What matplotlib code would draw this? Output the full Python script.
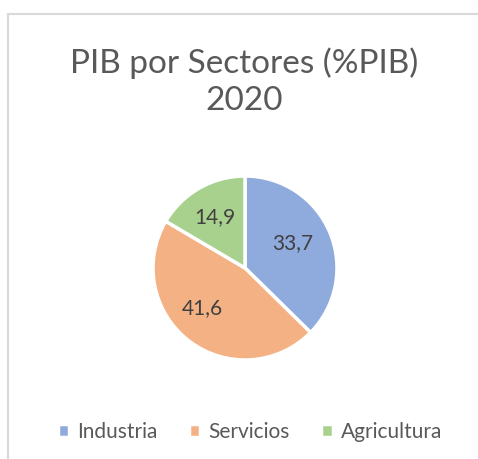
import numpy as np
import matplotlib.pyplot as plt

plt.rcParams['font.family'] = ['Lato', 'DejaVu Sans']

sectores = ['Industria', 'Servicios', 'Agricultura']
valores = [33.7, 41.6, 14.9]
colores = ['#8FAADC', '#F4B183', '#A9D18E']

fig = plt.figure(figsize=(4.78, 4.59), dpi=100)

# marco gris del grafico (recortado a la derecha y abajo)
fig.add_artist(plt.Line2D([8/478, 8/478], [0, 1 - 13.5/459], color='#D9D9D9', lw=1.5))
fig.add_artist(plt.Line2D([8/478, 1], [1 - 13.5/459, 1 - 13.5/459], color='#D9D9D9', lw=1.5))

fig.text(244/478, 1 - 82/459, 'PIB por Sectores (%PIB)\n2020', ha='center', va='center',
         fontsize=24, color='#595959', linespacing=1.3)

ax = fig.add_axes([(245 - 92)/478, 1 - (268 + 92)/459, 184/478, 184/459])
wedges, texts = ax.pie(valores, colors=colores, startangle=90, counterclock=False,
                       wedgeprops=dict(edgecolor='white', linewidth=2.5))
ax.set_xlim(-1.0, 1.0)
ax.set_ylim(-1.0, 1.0)
ax.set_aspect('equal')

# etiquetas de datos dentro de cada sector
dist = [0.59, 0.64, 0.64]
desvio = [5, -9, 1]
for w, v, d, off in zip(wedges, valores, dist, desvio):
    ang = np.deg2rad((w.theta1 + w.theta2) / 2 + off)
    ax.text(d * np.cos(ang), d * np.sin(ang), f'{v:.1f}'.replace('.', ','),
            ha='center', va='center', fontsize=15, color='#404040')

fig.legend(wedges, sectores, loc='center', bbox_to_anchor=(250/478, 1 - 432/459), ncol=3,
           frameon=False, fontsize=15, handlelength=0.55, handleheight=0.55,
           handletextpad=0.4, columnspacing=1.5, labelcolor='#595959')

fig.savefig('out.png', dpi=100)
